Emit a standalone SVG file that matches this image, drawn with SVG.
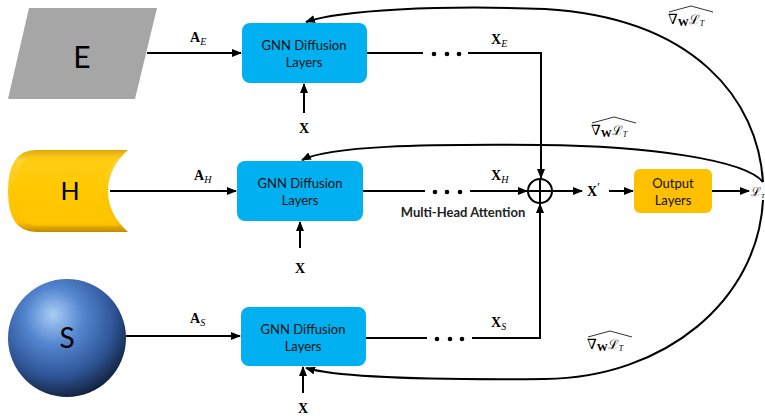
<svg xmlns="http://www.w3.org/2000/svg" width="765" height="416" viewBox="0 0 765 416">
<style>
.ln{fill:none;stroke:#000;stroke-width:2}
.box{fill:#00B0F0}
.lbl{font-family:Lato,"Open Sans",sans-serif;font-size:13px;fill:#111;text-anchor:middle}
.big{font-family:Lato,"Open Sans",sans-serif;fill:#000;text-anchor:middle}
.m{font-family:"Liberation Serif","DejaVu Serif",serif;fill:#000}
.mb{font-weight:bold;font-size:14px}
.sub{font-style:italic;font-size:10px}
.dot{fill:#000}
.hat{fill:none;stroke:#000;stroke-width:0.8}
.cal{font-family:"DejaVu Serif",serif}
</style>
<defs>
<marker id="ah" markerWidth="10" markerHeight="8" refX="9" refY="4" orient="auto" markerUnits="userSpaceOnUse">
<path d="M0,0 L10,4 L0,8 Z" fill="#000"/>
</marker>
<linearGradient id="gold" x1="0" y1="0" x2="0" y2="1">
<stop offset="0" stop-color="#E0A800"/>
<stop offset="0.12" stop-color="#FFD234"/>
<stop offset="0.5" stop-color="#FFC800"/>
<stop offset="0.88" stop-color="#FFC000"/>
<stop offset="1" stop-color="#C08C00"/>
</linearGradient>
<radialGradient id="ball" cx="0.42" cy="0.35" r="0.7" fx="0.38" fy="0.3">
<stop offset="0" stop-color="#A9CDF5"/>
<stop offset="0.35" stop-color="#5385CF"/>
<stop offset="0.7" stop-color="#2F5597"/>
<stop offset="1" stop-color="#0E1A30"/>
</radialGradient>
</defs>

<g id="node-E">
<polygon points="29,8 157,8 135,99 8,99" fill="#A6A6A6"/>
<text class="big" x="82" y="68" font-size="30">E</text>
</g>
<g id="node-H">
<path d="M128,150 L36,150 Q8,150 8,191 Q8,232 36,232 L128,232 Q108,214 108,191 Q108,168 128,150 Z" fill="url(#gold)"/>
<path d="M120,156 L38,156 Q16,156 16,191 Q16,226 38,226 L120,226 Q102,210 102,191 Q102,172 120,156 Z" fill="#FFC800" opacity="0.6"/>
<text class="big" x="70" y="200" font-size="25">H</text>
</g>
<g id="node-S">
<circle cx="67" cy="338" r="59" fill="url(#ball)"/>
<text class="big" x="67" y="348" font-size="28" fill="#000">S</text>
</g>

<g id="gnn-E">
<rect class="box" x="242" y="23" width="125" height="60" rx="8"/>
<text class="lbl" x="304" y="50">GNN Diffusion</text>
<text class="lbl" x="304" y="67">Layers</text>
</g>
<g id="gnn-H">
<rect class="box" x="237" y="161" width="126" height="60" rx="8"/>
<text class="lbl" x="300" y="188">GNN Diffusion</text>
<text class="lbl" x="300" y="205">Layers</text>
</g>
<g id="gnn-S">
<rect class="box" x="241" y="307" width="125" height="59" rx="8"/>
<text class="lbl" x="303" y="334">GNN Diffusion</text>
<text class="lbl" x="303" y="351">Layers</text>
</g>
<g id="output">
<rect x="634" y="169" width="78" height="44" rx="6" fill="#FFC000"/>
<text class="lbl" x="673" y="188">Output</text>
<text class="lbl" x="673" y="205">Layers</text>
</g>
<g id="sum">
<circle cx="540" cy="191" r="12" fill="#fff" stroke="#000" stroke-width="2"/>
<path class="ln" d="M528,191 H552 M540,179 V203"/>
<text x="463" y="217" font-family="Lato,'Open Sans',sans-serif" font-weight="bold" font-size="13" fill="#222" text-anchor="middle">Multi-Head Attention</text>
</g>

<g id="connectors">
<path class="ln" d="M147,53 H241" marker-end="url(#ah)"/>
<path class="ln" d="M110,191 H236" marker-end="url(#ah)"/>
<path class="ln" d="M126,336 H240" marker-end="url(#ah)"/>
<path class="ln" d="M304,113 V84" marker-end="url(#ah)"/>
<path class="ln" d="M300,248 V222" marker-end="url(#ah)"/>
<path class="ln" d="M303,393 V367" marker-end="url(#ah)"/>
<path class="ln" d="M367,53 H423 M468,53 H541 V178" marker-end="url(#ah)"/>
<path class="ln" d="M363,191 H425 M470,191 H527" marker-end="url(#ah)"/>
<path class="ln" d="M366,338 H427 M472,338 H540 V204" marker-end="url(#ah)"/>
<g class="dot">
<circle cx="434" cy="54" r="2.3"/><circle cx="447" cy="54" r="2.3"/><circle cx="459" cy="54" r="2.3"/>
<circle cx="435" cy="192" r="2.3"/><circle cx="447" cy="192" r="2.3"/><circle cx="460" cy="192" r="2.3"/>
<circle cx="437" cy="339" r="2.3"/><circle cx="450" cy="339" r="2.3"/><circle cx="462" cy="339" r="2.3"/>
</g>
<path class="ln" d="M553,191 H582" marker-end="url(#ah)"/>
<path class="ln" d="M609,191 H633" marker-end="url(#ah)"/>
<path class="ln" d="M712,191 H749" marker-end="url(#ah)"/>
<path class="ln" d="M763,182 C758,100 695,18 545,9 C440,5 340,10 306,22" marker-end="url(#ah)"/>
<path class="ln" d="M763,182 C745,160 650,146 540,145 C420,144 330,146 302,160" marker-end="url(#ah)"/>
<path class="ln" d="M763,200 C758,300 665,378 545,379 C430,380 340,378 306,368" marker-end="url(#ah)"/>
</g>

<g id="labels">
<text class="m" x="190" y="42"><tspan class="mb">A</tspan><tspan class="sub" dy="3">E</tspan></text>
<text class="m" x="194" y="180"><tspan class="mb">A</tspan><tspan class="sub" dy="3">H</tspan></text>
<text class="m" x="190" y="323"><tspan class="mb">A</tspan><tspan class="sub" dy="3">S</tspan></text>
<text class="m" x="491" y="44"><tspan class="mb">X</tspan><tspan class="sub" dy="3">E</tspan></text>
<text class="m" x="491" y="180"><tspan class="mb">X</tspan><tspan class="sub" dy="3">H</tspan></text>
<text class="m" x="491" y="327"><tspan class="mb">X</tspan><tspan class="sub" dy="3">S</tspan></text>
<text class="m mb" x="304" y="133" text-anchor="middle">X</text>
<text class="m mb" x="300" y="273" text-anchor="middle">X</text>
<text class="m mb" x="303" y="413" text-anchor="middle">X</text>
<text class="m" x="587" y="196"><tspan class="mb">X</tspan><tspan font-size="12" dy="-5">′</tspan></text>
<text class="m" x="751" y="196" font-size="12"><tspan class="cal">ℒ</tspan><tspan font-size="7" font-style="italic" dy="2">T</tspan></text>

<text class="m" x="668" y="24" font-size="14">∇<tspan font-weight="bold" font-size="11" dy="2">W</tspan><tspan class="cal" font-size="13" dy="-2">ℒ</tspan><tspan font-style="italic" font-size="8" dy="2">T</tspan></text>
<path class="hat" d="M669,12 L691,6 L713,12"/>
<text class="m" x="591" y="135" font-size="14">∇<tspan font-weight="bold" font-size="11" dy="2">W</tspan><tspan class="cal" font-size="13" dy="-2">ℒ</tspan><tspan font-style="italic" font-size="8" dy="2">T</tspan></text>
<path class="hat" d="M592,123 L614,117 L636,123"/>
<text class="m" x="587" y="349" font-size="14">∇<tspan font-weight="bold" font-size="11" dy="2">W</tspan><tspan class="cal" font-size="13" dy="-2">ℒ</tspan><tspan font-style="italic" font-size="8" dy="2">T</tspan></text>
<path class="hat" d="M588,337 L610,331 L632,337"/>
</g>
</svg>
